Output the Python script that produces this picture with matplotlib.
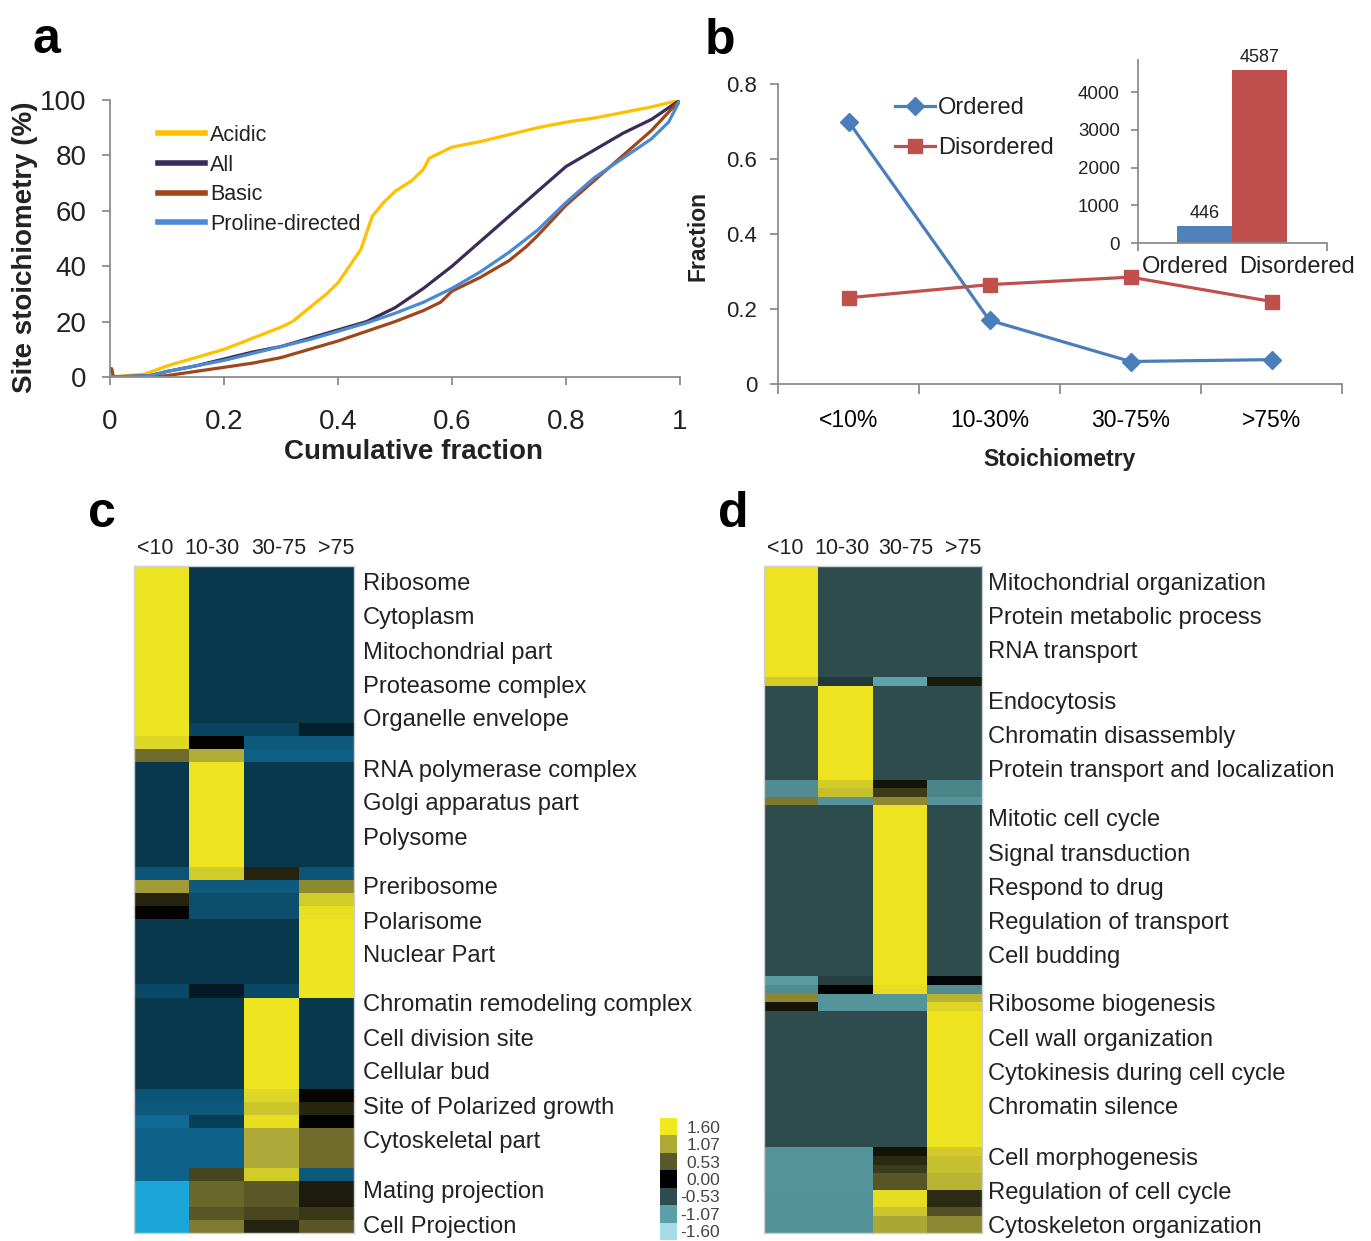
import numpy as np
import matplotlib
matplotlib.use("Agg")
import matplotlib.pyplot as plt
from matplotlib.colors import LinearSegmentedColormap

plt.rcParams['font.family'] = ['Liberation Sans', 'DejaVu Sans']

W, H = 1371, 1241
GRAY = '#8c8c8c'
TXT = '#222222'

# ---- panel a: cumulative distributions of site stoichiometry ----
acidic_x = [0, 0.06, 0.1, 0.15, 0.2, 0.25, 0.3, 0.32, 0.35, 0.38, 0.4, 0.42, 0.44, 0.45,
            0.46, 0.48, 0.5, 0.53, 0.55, 0.56, 0.58, 0.6, 0.65, 0.7, 0.75, 0.8, 0.85,
            0.9, 0.95, 1.0]
acidic_y = [0, 1, 4, 7, 10, 14, 18, 20, 25, 30, 34, 40, 46, 52, 58, 63, 67, 71, 75, 79,
            81, 83, 85, 87.5, 90, 92, 93.5, 95.5, 97.5, 100]
all_x = [0, 0.07, 0.1, 0.15, 0.2, 0.25, 0.3, 0.35, 0.4, 0.45, 0.5, 0.55, 0.6, 0.65, 0.7,
         0.75, 0.8, 0.85, 0.9, 0.95, 1.0]
all_y = [0, 0.5, 2, 4, 6.5, 9, 11, 14, 17, 20, 25, 32, 40, 49, 58, 67, 76, 82, 88, 93, 100]
basic_x = [0, 0.003, 0.006, 0.07, 0.1, 0.15, 0.2, 0.25, 0.3, 0.35, 0.4, 0.45, 0.5, 0.55,
           0.58, 0.6, 0.65, 0.7, 0.73, 0.75, 0.8, 0.85, 0.9, 0.95, 1.0]
basic_y = [3, 3, 0, 0, 0.5, 2, 3.5, 5, 7, 10, 13, 16.5, 20, 24, 27, 31, 36, 42, 47, 51, 62,
           71, 80, 89, 100]
proline_x = [0, 0.07, 0.1, 0.15, 0.2, 0.25, 0.3, 0.35, 0.4, 0.45, 0.5, 0.55, 0.6, 0.65,
             0.7, 0.75, 0.8, 0.85, 0.9, 0.95, 0.98, 1.0]
proline_y = [0, 0.5, 2, 4, 6, 8.5, 11, 13.5, 16.5, 19.5, 23, 27, 32, 38, 45, 53, 63, 72,
             79, 86, 92, 100]

# ---- panel b: fraction per stoichiometry class ----
stoich_cats = ['<10%', '10-30%', '30-75%', '>75%']
ordered_frac = [0.70, 0.17, 0.06, 0.065]
disordered_frac = [0.23, 0.265, 0.285, 0.22]
inset_labels = ['Ordered', 'Disordered']
inset_counts = [446, 4587]

# ---- panels c/d: enrichment heatmaps (row blocks: count, 4 column values) ----
heat_cols = ['<10', '10-30', '30-75', '>75']
c_counts = [12, 1, 1, 1, 8, 1, 1, 1, 1, 5, 1, 7, 1, 1, 1, 3, 1, 2, 1, 1]
c_values = [
    [1.55, -0.53, -0.53, -0.53],
    [1.55, -0.65, -0.65, -0.30],
    [1.45, 0.00, -0.85, -0.85],
    [0.65, 1.10, -0.90, -0.90],
    [-0.53, 1.55, -0.53, -0.53],
    [-0.80, 1.35, 0.20, -0.80],
    [0.98, -0.85, -0.85, 0.85],
    [0.20, -0.75, -0.75, 1.35],
    [0.02, -0.75, -0.75, 1.50],
    [-0.53, -0.53, -0.53, 1.55],
    [-0.70, -0.25, -0.70, 1.55],
    [-0.53, -0.53, 1.55, -0.53],
    [-0.80, -0.80, 1.45, 0.03],
    [-0.85, -0.85, 1.30, 0.22],
    [-1.00, -0.60, 1.50, 0.02],
    [-0.92, -0.92, 1.07, 0.65],
    [-0.92, 0.40, 1.35, -0.85],
    [-1.50, 0.62, 0.52, 0.17],
    [-1.50, 0.50, 0.42, 0.33],
    [-1.50, 0.75, 0.20, 0.50],
]
c_terms = ['Ribosome', 'Cytoplasm', 'Mitochondrial part', 'Proteasome complex',
           'Organelle envelope', 'RNA polymerase complex', 'Golgi apparatus part',
           'Polysome', 'Preribosome', 'Polarisome', 'Nuclear Part',
           'Chromatin remodeling complex', 'Cell division site', 'Cellular bud',
           'Site of Polarized growth', 'Cytoskeletal part', 'Mating projection',
           'Cell Projection']
c_term_y = [584, 618, 653, 687, 720, 771, 804, 839, 888, 923, 956, 1005, 1040, 1073,
            1108, 1142, 1192, 1227]

d_counts = [13, 1, 11, 1, 1, 1, 20, 1, 1, 1, 1, 16, 1, 1, 1, 2, 2, 1, 2]
d_values = [
    [1.55, -0.53, -0.53, -0.53],
    [1.35, -0.40, -1.10, 0.15],
    [-0.53, 1.55, -0.53, -0.53],
    [-0.95, 1.35, 0.12, -0.90],
    [-0.95, 1.25, 0.35, -0.90],
    [0.75, -1.00, 0.85, -1.00],
    [-0.53, -0.53, 1.55, -0.53],
    [-1.05, -0.45, 1.55, -0.05],
    [-0.95, 0.00, 1.50, -0.95],
    [0.85, -1.00, -1.00, 1.15],
    [0.12, -1.00, -1.00, 1.45],
    [-0.53, -0.53, -0.53, 1.55],
    [-1.00, -1.00, 0.12, 1.35],
    [-1.00, -1.00, 0.25, 1.25],
    [-1.00, -1.00, 0.35, 1.25],
    [-1.00, -1.00, 0.52, 1.15],
    [-0.98, -0.98, 1.50, 0.25],
    [-0.98, -0.98, 1.30, 0.48],
    [-0.98, -0.98, 1.05, 0.85],
]
d_terms = ['Mitochondrial organization', 'Protein metabolic process', 'RNA transport',
           'Endocytosis', 'Chromatin disassembly', 'Protein transport and localization',
           'Mitotic cell cycle', 'Signal transduction', 'Respond to drug',
           'Regulation of transport', 'Cell budding', 'Ribosome biogenesis',
           'Cell wall organization', 'Cytokinesis during cell cycle', 'Chromatin silence',
           'Cell morphogenesis', 'Regulation of cell cycle', 'Cytoskeleton organization']
d_term_y = [584, 618, 652, 703, 737, 771, 820, 855, 889, 923, 957, 1005, 1040, 1074,
            1108, 1159, 1193, 1227]

cbar_levels = [1.60, 1.07, 0.53, 0.00, -0.53, -1.07, -1.60]

levels_up = [-1.6, -1.07, -0.53, 0.0, 0.53, 1.07, 1.6]
pos = [(v + 1.6) / 3.2 for v in levels_up]
cmap_c = LinearSegmentedColormap.from_list('c', list(zip(pos, [
    '#1cb4e6', '#1272a0', '#07384c', '#000000', '#5c5a28', '#ada838', '#f2ea1e'])))
cmap_d = LinearSegmentedColormap.from_list('d', list(zip(pos, [
    '#a6dce6', '#5aa0a6', '#2e4c4e', '#000000', '#5a5828', '#aea838', '#f2e81e'])))


def box(x0, y0, x1, y1):
    return [x0 / W, 1 - y1 / H, (x1 - x0) / W, (y1 - y0) / H]


def style_axes(ax):
    for s in ['top', 'right']:
        ax.spines[s].set_visible(False)
    for s in ['left', 'bottom']:
        ax.spines[s].set_color(GRAY)
        ax.spines[s].set_linewidth(1.3)
    ax.tick_params(colors=GRAY, labelcolor=TXT, direction='out', width=1.3)


fig = plt.figure(figsize=(W / 100, H / 100), dpi=100)

# ---------------- panel a ----------------
ax = fig.add_axes(box(110, 100, 680, 377))
style_axes(ax)
ax.plot(acidic_x, acidic_y, color='#ffc000', lw=2.3, label='Acidic')
ax.plot(all_x, all_y, color='#3b2b58', lw=2.3, label='All')
ax.plot(basic_x, basic_y, color='#a0461a', lw=2.3, label='Basic')
ax.plot(proline_x, proline_y, color='#4a8ad4', lw=2.3, label='Proline-directed')
ax.set_xlim(0, 1)
ax.set_ylim(0, 100)
ax.set_xticks([0, 0.2, 0.4, 0.6, 0.8, 1])
ax.set_xticklabels(['0', '0.2', '0.4', '0.6', '0.8', '1'])
ax.set_yticks([0, 20, 40, 60, 80, 100])
ax.tick_params(axis='x', length=6, pad=17, labelsize=20)
ax.tick_params(axis='y', length=6, pad=11, labelsize=20)
ax.set_xlabel('Cumulative fraction', fontsize=20, fontweight='bold', color=TXT)
ax.xaxis.set_label_coords(0.533, -0.272)
ax.xaxis.label.set_va('center')
ax.set_ylabel('Site stoichiometry (%)', fontsize=20, fontweight='bold', color=TXT)
ax.yaxis.set_label_coords(-0.149, 0.47)
ax.yaxis.label.set_va('center')
leg = ax.legend(loc='upper left', bbox_to_anchor=(158 / W, 1 - 125 / H),
                bbox_transform=fig.transFigure, frameon=False, fontsize=15.5,
                handlelength=2.2, handletextpad=0.22, labelspacing=0.40,
                borderpad=0, borderaxespad=0)
for line in leg.get_lines():
    line.set_linewidth(4)
for t in leg.get_texts():
    t.set_color(TXT)

# ---------------- panel b ----------------
ax = fig.add_axes(box(778, 84, 1342, 384))
style_axes(ax)
xb = np.arange(len(stoich_cats))
ax.plot(xb, ordered_frac, color='#4a7ebb', lw=2.3, marker='D', ms=9, label='Ordered')
ax.plot(xb, disordered_frac, color='#c0504d', lw=2.3, marker='s', ms=10,
        label='Disordered')
ax.set_xlim(-0.5, 3.5)
ax.set_ylim(0, 0.8)
ax.set_yticks([0, 0.2, 0.4, 0.6, 0.8])
ax.set_yticklabels(['0', '0.2', '0.4', '0.6', '0.8'])
ax.set_xticks(np.arange(-0.5, 4, 1))
ax.set_xticklabels([])
ax.set_xticks(xb, minor=True)
ax.set_xticklabels(stoich_cats, minor=True)
ax.tick_params(axis='x', which='major', length=7)
ax.tick_params(axis='x', which='minor', length=0, pad=18, labelsize=16.5)
ax.tick_params(axis='y', length=6, pad=9, labelsize=16)
ax.set_xlabel('Stoichiometry', fontsize=16.5, fontweight='bold', color=TXT)
ax.xaxis.set_label_coords(0.5, -0.253)
ax.xaxis.label.set_va('center')
ax.set_ylabel('Fraction', fontsize=16.5, fontweight='bold', color=TXT)
ax.yaxis.set_label_coords(-0.142, 0.493)
ax.yaxis.label.set_va('center')
leg = ax.legend(loc='upper left', bbox_to_anchor=(895 / W, 1 - 97 / H),
                bbox_transform=fig.transFigure, frameon=False, fontsize=17,
                handlelength=1.7, handletextpad=0.12, labelspacing=0.78,
                borderpad=0, borderaxespad=0)
for t in leg.get_texts():
    t.set_color(TXT)

# inset bar chart
ax = fig.add_axes(box(1138, 60, 1327, 243))
style_axes(ax)
bw = 0.29
bar_x = 0.497 + bw * (np.arange(2) - 0.5)
bars = ax.bar(bar_x, inset_counts, width=bw, color=['#4f81bd', '#c0504d'])
for b, v in zip(bars, inset_counts):
    ax.text(b.get_x() + b.get_width() / 2, v + 110, str(v), ha='center', va='bottom',
            fontsize=13, color=TXT)
ax.set_xlim(0, 1)
ax.set_ylim(0, 4850)
ax.set_yticks([0, 1000, 2000, 3000, 4000])
ax.set_xticks([0, 1])
ax.set_xticklabels([])
ax.tick_params(axis='y', length=5, pad=8, labelsize=13.5)
ax.tick_params(axis='x', length=6)
for lab, px in zip(inset_labels, [1185, 1297]):
    ax.text((px - 1138) / 189, -0.13, lab, transform=ax.transAxes, ha='center',
            va='center', fontsize=17, color=TXT)


# ---------------- panels c and d ----------------
def heatmap(x0, x1, counts, values, cmap, terms, term_y, term_x, header_x):
    ax = fig.add_axes(box(x0, 566, x1, 1233))
    mat = np.repeat(np.array(values), counts, axis=0)
    ax.imshow(mat, cmap=cmap, vmin=-1.6, vmax=1.6, aspect='auto',
              interpolation='nearest')
    ax.set_xticks([])
    ax.set_yticks([])
    for s in ax.spines.values():
        s.set_color('#cfcfcf')
        s.set_linewidth(1)
    for col, px in zip(heat_cols, header_x):
        fig.text(px / W, 1 - 548 / H, col, ha='center', va='center',
                 fontsize=15.5, color=TXT)
    for term, py in zip(terms, term_y):
        fig.text(term_x / W, 1 - py / H, term, ha='left', va='center',
                 fontsize=17.1, color=TXT)
    return ax


heatmap(134, 354, c_counts, c_values, cmap_c, c_terms, c_term_y, 363,
        [155, 212, 279, 336])
heatmap(764, 982, d_counts, d_values, cmap_d, d_terms, d_term_y, 988,
        [785, 842, 906, 963])

# discrete colour key
ax = fig.add_axes(box(660, 1118, 677, 1240))
ax.imshow(np.array(cbar_levels).reshape(-1, 1), cmap=cmap_d, vmin=-1.6, vmax=1.6,
          aspect='auto', interpolation='nearest')
ax.set_xticks([])
ax.set_yticks(range(len(cbar_levels)))
ax.set_yticklabels(['%.2f' % v for v in cbar_levels], fontsize=12.5, color='#444444')
ax.yaxis.tick_right()
ax.tick_params(axis='y', length=0, pad=31)
for t in ax.get_yticklabels():
    t.set_ha('right')
for s in ax.spines.values():
    s.set_visible(False)

# panel letters
for letter, px, py in [('a', 33, 53), ('b', 705, 54), ('c', 88, 527), ('d', 718, 527)]:
    fig.text(px / W, 1 - py / H, letter, fontsize=36, fontweight='bold',
             ha='left', va='baseline')

fig.savefig('out.png', dpi=100)
